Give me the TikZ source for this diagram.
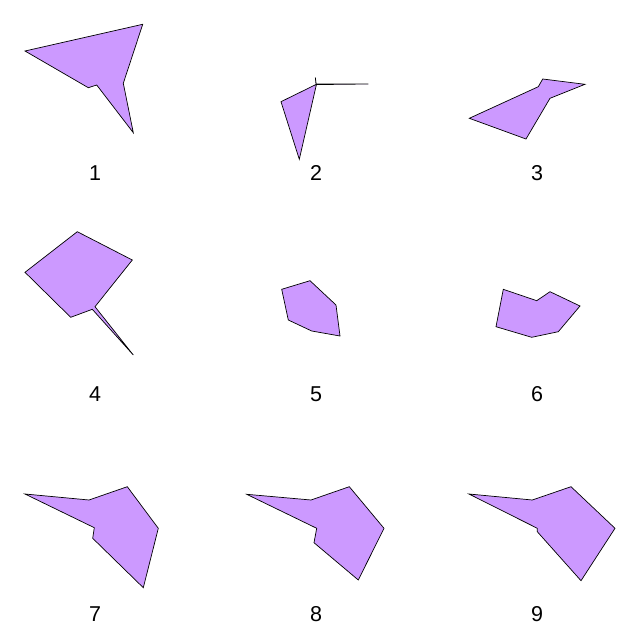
\documentclass[tikz,border=0pt]{standalone}
\usepackage{fontspec}
\setmainfont{Liberation Sans}
\definecolor{poly}{RGB}{204,153,255}
\begin{document}
\begin{tikzpicture}[x=1pt,y=-1pt,
  shp/.style={fill=poly,draw=black,line width=0.7pt,line join=miter},
  lbl/.style={font=\fontsize{21.5}{25}\selectfont,inner sep=0pt}]
\useasboundingbox (0,0) rectangle (622,626);
% 1
\draw[shp] (25,51) -- (142.7,24.3) -- (123.3,83.3) -- (133.3,132.7) -- (96.7,85) -- (88.3,87.7) -- cycle;
\node[lbl] (l1) at (95,173) {1};
% 2
\draw[shp] (281,101.7) -- (316,84.5) -- (315.3,77.5) -- (316.2,84) -- (368.3,84) -- (316.4,84.6) -- (299.3,159.3) -- cycle;
\node[lbl] (l2) at (316,173) {2};
% 3
\draw[shp] (469.3,118.3) -- (538.3,86.7) -- (542.7,79) -- (585,84.3) -- (550,98.3) -- (526,139) -- cycle;
\node[lbl] (l3) at (537,173) {3};
% 4
\draw[shp] (25,272.3) -- (77.3,231.7) -- (132.3,260) -- (95,306.7) -- (133.3,355) -- (92.3,309.3) -- (70.7,317.3) -- cycle;
\node[lbl] (l4) at (95,394) {4};
% 5
\draw[shp] (281.7,289.3) -- (310,280.7) -- (336,305) -- (340,336) -- (311.7,331) -- (288.3,320) -- cycle;
\node[lbl] (l5) at (316,394) {5};
% 6
\draw[shp] (503.3,289.3) -- (536.7,300.7) -- (550,291.7) -- (580,306) -- (558.3,331.7) -- (531.7,337.3) -- (496,326.7) -- cycle;
\node[lbl] (l6) at (537,394) {6};
% 7
\draw[shp] (25,494) -- (89,500) -- (127.3,486.7) -- (158.3,528.3) -- (143.3,587.7) -- (92.7,538.3) -- (94.3,527.7) -- cycle;
\node[lbl] (l7) at (95,614) {7};
% 8
\draw[shp] (246.7,494.3) -- (311,500) -- (349.3,486.7) -- (384,528.3) -- (358.3,580) -- (314,542.7) -- (316.7,528.3) -- cycle;
\node[lbl] (l8) at (316,614) {8};
% 9
\draw[shp] (469,494) -- (532.3,500) -- (571,486.7) -- (615,528.3) -- (581,580.7) -- (537.3,531.7) -- (537.3,528.3) -- cycle;
\node[lbl] (l9) at (537,614) {9};
\end{tikzpicture}
\end{document}
